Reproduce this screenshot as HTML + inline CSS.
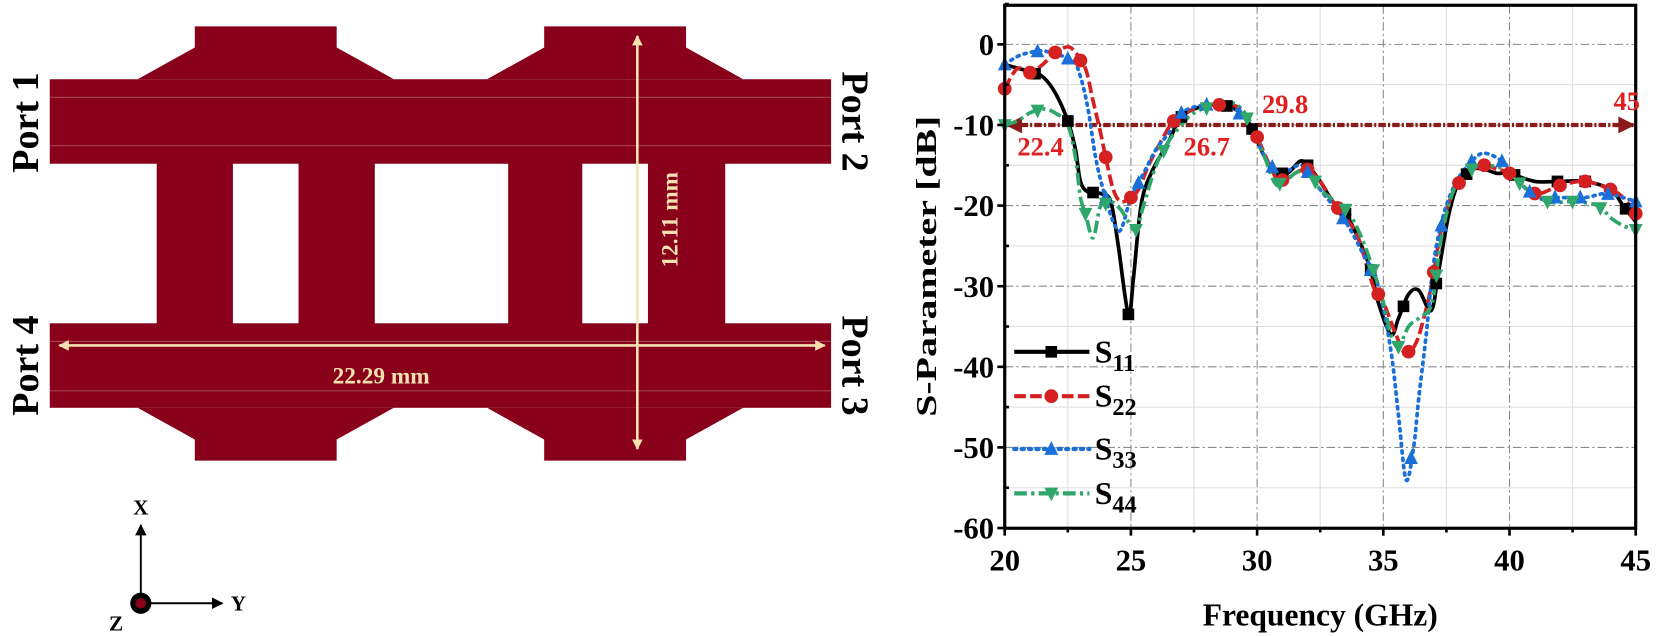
<!DOCTYPE html>
<html><head><meta charset="utf-8"><style>
html,body{margin:0;padding:0;background:#fff;}
svg{display:block;}
text{font-family:"Liberation Serif",serif;font-weight:bold;}
</style></head><body>
<svg id="s" width="1659" height="636" viewBox="0 0 1567 602" preserveAspectRatio="none" xmlns="http://www.w3.org/2000/svg">
<defs>
<marker id="aw" viewBox="0 0 10 10" refX="9" refY="5" markerWidth="4" markerHeight="4" orient="auto-start-reverse"><path d="M0,0L10,5L0,10z" fill="#f3e2b0"/></marker>
<marker id="ar" viewBox="0 0 10 10" refX="9" refY="5" markerWidth="5" markerHeight="4" orient="auto-start-reverse"><path d="M0,0L10,5L0,10z" fill="#8b1a1a"/></marker>
<marker id="ak" viewBox="0 0 10 10" refX="9" refY="5" markerWidth="6" markerHeight="6" orient="auto"><path d="M0,0L10,5L0,10z" fill="#000"/></marker>
</defs>
<g fill="#880019">
<rect x="47" y="75" width="738" height="80"/>
<rect x="47" y="306" width="738" height="80"/>
<polygon points="130,75 184,45 184,25 318,25 318,45 372,75"/>
<polygon points="460,75 514,45 514,25 648,25 648,45 702,75"/>
<polygon points="130,386 184,416 184,436 318,436 318,416 372,386"/>
<polygon points="460,386 514,416 514,436 648,436 648,416 702,386"/>
<rect x="148" y="150" width="72" height="160"/>
<rect x="282" y="150" width="72" height="160"/>
<rect x="480" y="150" width="70" height="160"/>
<rect x="612" y="150" width="73" height="160"/>
</g>
<g stroke="#c98a95" stroke-width="0.7" opacity="0.7">
<line x1="47" y1="92" x2="785" y2="92"/><line x1="47" y1="138" x2="785" y2="138"/>
<line x1="47" y1="323" x2="785" y2="323"/><line x1="47" y1="370" x2="785" y2="370"/>
</g>
<line x1="602" y1="34" x2="602" y2="425" stroke="#f3e2b0" stroke-width="2.5" marker-start="url(#aw)" marker-end="url(#aw)"/>
<line x1="56" y1="327" x2="779" y2="327" stroke="#f3e2b0" stroke-width="2.5" marker-start="url(#aw)" marker-end="url(#aw)"/>
<text x="360" y="363" fill="#f3e2b0" font-size="22" text-anchor="middle">22.29 mm</text>
<text transform="translate(640,208) rotate(-90)" fill="#f3e2b0" font-size="22" text-anchor="middle">12.11 mm</text>
<text transform="translate(36,116) rotate(-90)" font-size="36" text-anchor="middle">Port 1</text>
<text transform="translate(36,346) rotate(-90)" font-size="36" text-anchor="middle">Port 4</text>
<text transform="translate(796,115) rotate(90)" font-size="36" text-anchor="middle">Port 2</text>
<text transform="translate(796,346) rotate(90)" font-size="36" text-anchor="middle">Port 3</text>
<line x1="133" y1="562" x2="133" y2="497" stroke="#000" stroke-width="1.8" marker-end="url(#ak)"/>
<line x1="142" y1="571" x2="210" y2="571" stroke="#000" stroke-width="1.8" marker-end="url(#ak)"/>
<circle cx="133" cy="571" r="10" fill="#000"/><circle cx="133" cy="571" r="5" fill="#880019"/>
<text x="133" y="487" font-size="20" text-anchor="middle">X</text>
<text x="218" y="578" font-size="20">Y</text>
<text x="103" y="597" font-size="20">Z</text>
<g id="chart"></g>
</svg>
<script>
const NS="http://www.w3.org/2000/svg",C=document.getElementById('chart');
const X0=949,X1=1545,Y0=42,DY=7.63;
const fx=f=>X0+(f-20)*(X1-X0)/25, fy=d=>Y0-d*DY;
function el(t,a,p){const e=document.createElementNS(NS,t);for(const k in a)e.setAttribute(k,a[k]);(p||C).appendChild(e);return e;}
for(let f=22.5;f<45;f+=5)el('line',{x1:fx(f),x2:fx(f),y1:5,y2:500,stroke:'#ddd','stroke-width':1});
for(let d=-55;d<5;d+=10)el('line',{x1:X0,x2:X1,y1:fy(d),y2:fy(d),stroke:'#ddd','stroke-width':1});
for(let f=25;f<45;f+=5)el('line',{x1:fx(f),x2:fx(f),y1:5,y2:500,stroke:'#888','stroke-width':1,'stroke-dasharray':'8 3 2 3'});
for(let d=-50;d<=0;d+=10)el('line',{x1:X0,x2:X1,y1:fy(d),y2:fy(d),stroke:'#888','stroke-width':1,'stroke-dasharray':'8 3 2 3'});
function path(pts){const P=pts.map(p=>[fx(p[0]),fy(p[1])]);let d='M'+P[0];for(let i=0;i<P.length-1;i++){const p0=P[i-1]||P[i],p1=P[i],p2=P[i+1],p3=P[i+2]||p2;const c1=[p1[0]+(p2[0]-p0[0])/6,p1[1]+(p2[1]-p0[1])/6],c2=[p2[0]-(p3[0]-p1[0])/6,p2[1]-(p3[1]-p1[1])/6];d+='C'+c1+' '+c2+' '+p2;}return d;}
function interp(pts,f){for(let i=0;i<pts.length-1;i++)if(f>=pts[i][0]&&f<=pts[i+1][0]){const t=(f-pts[i][0])/(pts[i+1][0]-pts[i][0]);return pts[i][1]+t*(pts[i+1][1]-pts[i][1]);}return pts[pts.length-1][1];}
function mark(type,x,y,c,s){if(type=='sq')el('rect',{x:x-s,y:y-s,width:2*s,height:2*s,fill:c});else if(type=='ci')el('circle',{cx:x,cy:y,r:s+1,fill:c});else if(type=='up')el('polygon',{points:`${x},${y-s-2} ${x-s-1},${y+s} ${x+s+1},${y+s}`,fill:c});else el('polygon',{points:`${x},${y+s+2} ${x-s-1},${y-s} ${x+s+1},${y-s}`,fill:c});}
const S=[
{c:'#000',dash:'',w:3.5,m:'sq',pts:[[20,-2.5],[21,-3.4],[21.5,-4],[22,-6],[22.5,-9.5],[22.8,-13],[23,-17],[23.3,-18.3],[23.8,-18.5],[24.2,-19.5],[24.5,-25],[24.9,-33.5],[25.1,-29],[25.4,-20],[25.8,-16],[26.5,-12],[27,-9],[27.7,-7.8],[28.5,-7.4],[29,-7.8],[29.5,-9],[29.8,-10.5],[30.3,-14],[30.7,-16],[31.2,-16],[31.7,-14.5],[32,-15],[32.5,-17],[33,-19.5],[33.5,-21],[34,-24],[34.5,-28],[34.8,-32],[35.3,-36],[35.6,-34],[36,-31],[36.4,-30.5],[36.9,-33],[37.2,-28],[37.6,-21],[38,-17],[38.5,-15.5],[39,-15.5],[39.5,-16],[40,-16],[41,-17],[42,-17],[43,-17],[44,-18],[44.5,-20],[45,-22]],mk:[21.2,22.5,23.5,24.9,27,28.8,29.8,31,32,33.5,34.5,35.8,37.1,38.3,40.2,41.9,43,44.6]},
{c:'#d42020',dash:'11 4',w:3.5,m:'ci',pts:[[20,-5.5],[20.5,-3],[21,-3.5],[21.5,-2.5],[22,-1],[22.5,-0.3],[22.8,-1],[23.2,-3],[23.5,-7],[23.8,-11],[24,-14],[24.3,-18],[24.6,-19.5],[25,-19],[25.3,-18],[25.7,-15],[26.2,-12],[26.7,-9.5],[27.5,-8],[28.3,-7.5],[29,-7.5],[29.5,-8.5],[30,-11.5],[30.5,-15],[30.9,-17],[31.5,-16],[32,-15.5],[32.5,-17],[33,-19.5],[33.5,-21.5],[34,-24],[34.6,-30],[35,-32],[35.5,-36],[35.9,-38.5],[36.3,-37],[36.6,-34],[36.9,-30],[37.3,-23],[37.8,-18],[38.3,-16],[39,-15],[39.5,-15.5],[40,-16],[41,-18.5],[42,-17.5],[43,-17],[44,-18],[44.5,-19],[45,-21]],mk:[20,21,22,23,24,25,26.7,28.5,30,31,32,33.2,34.8,36,37,38,39,40,41,42,43,44,45]},
{c:'#1a6fd8',dash:'2 5',w:3.5,m:'up',pts:[[20,-2.5],[20.5,-1.5],[21,-1],[21.5,-0.8],[22,-1.2],[22.7,-2],[23,-4],[23.3,-8],[23.6,-14],[23.9,-18],[24.3,-22],[24.6,-23],[25,-19],[25.5,-16],[26,-13],[26.5,-11],[27,-8.5],[28,-7.5],[29,-8],[29.5,-9],[30.5,-15],[31,-16],[31.8,-15],[32.5,-18],[33.5,-22],[34.2,-26],[34.8,-30],[35.3,-38],[35.6,-46],[35.9,-54],[36.2,-50],[36.4,-44],[36.7,-36],[37,-27],[37.4,-21],[37.9,-17],[38.5,-14.5],[39,-13.5],[39.7,-14.5],[40.3,-16.5],[41,-19],[42,-19],[43,-19],[43.8,-18.5],[44.5,-19],[45,-19.5]],mk:[20,21.3,22.5,24,25.3,27,28,29.3,30.6,32,33.4,34.5,36.1,37.3,38.5,39.7,40.8,41.8,42.8,43.9,45]},
{c:'#2fa66a',dash:'12 4 3 4',w:3.5,m:'dn',pts:[[20,-10],[20.5,-9.5],[21,-8.5],[21.5,-8],[22,-8.5],[22.5,-10],[22.8,-14],[23,-19],[23.2,-21],[23.5,-24],[23.8,-20],[24.2,-19.5],[24.6,-20.5],[24.9,-22],[25.2,-23],[25.5,-20],[26,-15],[26.5,-12],[27,-10],[27.5,-8.5],[28.5,-7.3],[29.2,-7.5],[29.8,-10],[30.3,-14],[30.8,-17.5],[31.5,-16],[32,-15.5],[32.5,-18],[33.5,-20.5],[34,-23],[34.5,-27],[35,-32],[35.3,-36],[35.6,-37.5],[36,-35],[36.4,-34],[36.8,-33],[37,-31],[37.3,-24],[37.8,-18],[38.5,-15.5],[39,-15],[39.8,-15.5],[40.5,-17.5],[41.5,-19.5],[42.5,-19.5],[43.5,-20],[44,-21.5],[44.5,-22.5],[45,-23]],mk:[20,21.3,23.2,24,25.2,26.3,28,29.6,30.9,32.3,33.5,34.6,35.6,37.1,38.5,40.4,41.5,42.5,43.6,45]}
];
const clip=el('clipPath',{id:'cp'});el('rect',{x:X0,y:5,width:X1-X0,height:495},clip);
const g=el('g',{'clip-path':'url(#cp)'});
el('line',{x1:X0+2,x2:X1-2,y1:fy(-10),y2:fy(-10),stroke:'#8b1a1a','stroke-width':4,'stroke-dasharray':'7 2 2 2','marker-start':'url(#ar)','marker-end':'url(#ar)'},g);
S.forEach(s=>{el('path',{d:path(s.pts),fill:'none',stroke:s.c,'stroke-width':s.w,'stroke-dasharray':s.dash,'stroke-linecap':s.dash=='2 5'?'round':'butt'},g);});
S.forEach(s=>{s.mk.forEach(f=>{mark(s.m,fx(f),fy(interp(s.pts,f)),s.c,5.5);});});
el('rect',{x:X0,y:5,width:X1-X0,height:495,fill:'none',stroke:'#000','stroke-width':3});
for(let f=20;f<=45;f+=2.5){el('line',{x1:fx(f),x2:fx(f),y1:500,y2:f%5==0?507:504,stroke:'#000','stroke-width':2.5});}
for(let d=-60;d<=5;d+=5){el('line',{x1:X0-(d%10==0?7:0),x2:X0+(d%10==0?0:4),y1:fy(d),y2:fy(d),stroke:'#000','stroke-width':2.5});}
for(let f=20;f<=45;f+=5){const t=el('text',{x:fx(f),y:540,'font-size':29,'text-anchor':'middle'});t.textContent=f;}
for(let d=-60;d<=0;d+=10){const t=el('text',{x:X0-10,y:fy(d)+10,'font-size':29,'text-anchor':'end'});t.textContent=d;}
let t=el('text',{x:1247,y:592,'font-size':30,'text-anchor':'middle',textLength:222,lengthAdjust:'spacingAndGlyphs'});t.textContent='Frequency (GHz)';
t=el('text',{transform:'translate(884,252) rotate(-90)','font-size':27,'text-anchor':'middle',textLength:285,lengthAdjust:'spacingAndGlyphs'});t.textContent='S-Parameter [dB]';
[['22.4',961,147],['26.7',1118,147],['29.8',1192,107],['45',1524,104]].forEach(a=>{const e=el('text',{x:a[1],y:a[2],'font-size':25,fill:'#e02020'});e.textContent=a[0];});
[[333,'11'],[375,'22'],[425,'33'],[467,'44']].forEach((L,i)=>{const s=S[i];
el('line',{x1:958,x2:1029,y1:L[0],y2:L[0],stroke:s.c,'stroke-width':4,'stroke-dasharray':s.dash,'stroke-linecap':s.dash=='2 5'?'round':'butt'});
mark(s.m,993,L[0],s.c,5.5);
const e=el('text',{x:1034,y:L[0]+10,'font-size':30});e.textContent='S';const sp=el('tspan',{dy:8,'font-size':23},e);sp.textContent=L[1];});
</script>
</body></html>
